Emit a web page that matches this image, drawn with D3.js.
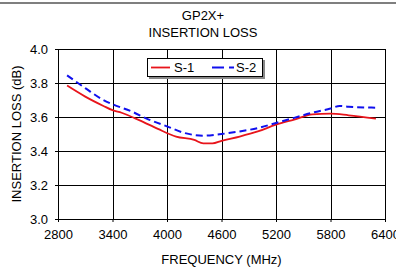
<!DOCTYPE html>
<html lang="en">
<head>
<meta charset="UTF-8">
<title>GP2X+ Insertion Loss</title>
<script src="https://d3js.org/d3.v7.min.js"></script>
<style>
  body { margin: 0; background: #fff; }
  svg text { font-family: "Liberation Sans", Arial, sans-serif; font-size: 13px; fill: #000; }
</style>
</head>
<body>
<svg width="396" height="267"></svg>
<script>
// data
var freqS1 = [2900, 3100, 3300, 3400, 3500, 3700, 3900, 4100, 4300, 4400, 4500, 4600, 4800, 5000, 5200, 5400, 5600, 5800, 6000, 6300];
var lossS1 = [3.785, 3.72, 3.665, 3.64, 3.625, 3.58, 3.53, 3.485, 3.465, 3.445, 3.445, 3.46, 3.485, 3.515, 3.555, 3.585, 3.615, 3.62, 3.61, 3.59];
var freqS2 = [2900, 3100, 3300, 3400, 3600, 3800, 4000, 4200, 4400, 4600, 4800, 5000, 5200, 5400, 5600, 5800, 5900, 6000, 6300];
var lossS2 = [3.845, 3.77, 3.70, 3.675, 3.635, 3.585, 3.545, 3.505, 3.49, 3.5, 3.515, 3.535, 3.565, 3.595, 3.625, 3.65, 3.665, 3.66, 3.655];
var xTicks = [2800, 3400, 4000, 4600, 5200, 5800, 6400];
var yTicks = [3.0, 3.2, 3.4, 3.6, 3.8, 4.0];
var seriesNames = ["S-1", "S-2"];

var margin = {top: 49, left: 58, right: 11, bottom: 48};
var width = 396 - margin.left - margin.right;
var height = 267 - margin.top - margin.bottom;

var root = d3.select('svg');

// top rule
root.append('line')
  .attr('x1', 0).attr('x2', 396)
  .attr('y1', 3).attr('y2', 3)
  .attr('stroke', '#555').attr('stroke-width', 1.5);

// titles
root.append('text').attr('x', 203).attr('y', 20).attr('text-anchor', 'middle').text('GP2X+');
root.append('text').attr('x', 203).attr('y', 37).attr('text-anchor', 'middle').text('INSERTION LOSS');

var svg = root.append('g')
  .attr('transform', `translate(${margin.left},${margin.top})`);

var x = d3.scaleLinear().domain([2800, 6400]).range([0, width]);
var y = d3.scaleLinear().domain([3.0, 4.0]).range([height, 0]);

// grid
svg.append('g').selectAll('line')
  .data(xTicks.slice(1))
  .enter().append('line')
  .attr('x1', d => Math.round(x(d)) + 0.5).attr('x2', d => Math.round(x(d)) + 0.5)
  .attr('y1', 0).attr('y2', height)
  .attr('stroke', '#000').attr('stroke-width', 1);

svg.append('g').selectAll('line')
  .data(yTicks.slice(1))
  .enter().append('line')
  .attr('x1', 0).attr('x2', width)
  .attr('y1', d => Math.round(y(d)) + 0.5).attr('y2', d => Math.round(y(d)) + 0.5)
  .attr('stroke', '#000').attr('stroke-width', 1);

// axes
var xAxis = svg.append('g')
  .attr('transform', `translate(0,${height})`)
  .call(d3.axisBottom(x).tickValues(xTicks).tickSize(3).tickSizeOuter(0).tickFormat(d3.format('d')));
var yAxis = svg.append('g')
  .call(d3.axisLeft(y).tickValues(yTicks).tickSize(3).tickSizeOuter(0).tickFormat(d3.format('.1f')));

[xAxis, yAxis].forEach(a => {
  a.selectAll('path, line').attr('stroke', '#000');
  a.selectAll('text').style('font-size', '13px').style('font-family', '"Liberation Sans", Arial, sans-serif');
});
xAxis.selectAll('text').attr('y', 8).attr('dy', '0.9em');
yAxis.selectAll('text').attr('x', -10);

// axis titles
svg.append('text')
  .attr('x', width / 2).attr('y', height + 45)
  .attr('text-anchor', 'middle')
  .text('FREQUENCY (MHz)');
svg.append('text')
  .attr('transform', 'rotate(-90)')
  .attr('x', -height / 2).attr('y', -37)
  .attr('text-anchor', 'middle')
  .text('INSERTION LOSS (dB)');

// lines
var line = d3.line().x(d => x(d[0])).y(d => y(d[1])).curve(d3.curveMonotoneX);

svg.append('path')
  .datum(freqS1.map((f, i) => [f, lossS1[i]]))
  .attr('d', line)
  .attr('fill', 'none').attr('stroke', '#e8141b').attr('stroke-width', 1.8);

svg.append('path')
  .datum(freqS2.map((f, i) => [f, lossS2[i]]))
  .attr('d', line)
  .attr('fill', 'none').attr('stroke', '#1010ee').attr('stroke-width', 2)
  .attr('stroke-dasharray', '7,4');

// legend
var lg = root.append('g').attr('transform', 'translate(147,58)');
lg.append('rect').attr('x', 2).attr('y', 2).attr('width', 116).attr('height', 19).attr('fill', '#888');
lg.append('rect').attr('x', 0.5).attr('y', 0.5).attr('width', 115).attr('height', 18)
  .attr('fill', '#fff').attr('stroke', '#000');
lg.append('line').attr('x1', 4).attr('x2', 23).attr('y1', 9.5).attr('y2', 9.5)
  .attr('stroke', '#e8141b').attr('stroke-width', 1.8);
lg.append('text').attr('x', 27).attr('y', 14).text(seriesNames[0]);
lg.append('line').attr('x1', 65).attr('x2', 87).attr('y1', 9.5).attr('y2', 9.5)
  .attr('stroke', '#1010ee').attr('stroke-width', 2).attr('stroke-dasharray', '12,5');
lg.append('text').attr('x', 89).attr('y', 14).text(seriesNames[1]);
</script>
</body>
</html>
